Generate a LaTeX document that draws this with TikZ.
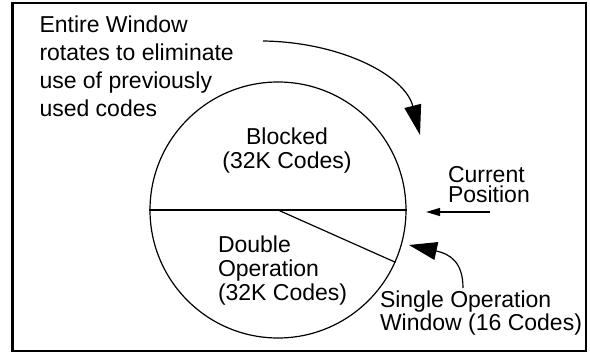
\documentclass[tikz,border=0pt]{standalone}
\usepackage{fontspec}
\setmainfont{Liberation Sans}
\usetikzlibrary{arrows.meta}
\begin{document}
\begin{tikzpicture}[x=1pt,y=-1pt,
  lbl/.style={inner sep=0pt,outer sep=0pt,align=left,anchor=base west},
  thin line/.style={line width=1.2pt},
  bigtip/.style={-{Triangle[length=30pt,width=17pt]}},
  smalltip/.style={-{Triangle[length=14pt,width=8pt]}}]
\useasboundingbox (0,0) rectangle (590,353);
% frame
\draw[line width=2.5pt] (12.5,3) rectangle (586,351);
% circle
\node[circle,draw,thin line,minimum size=256pt,inner sep=0pt] (c) at (278,210) {};
\draw[thin line] (c.west) -- (c.east);
\draw[thin line] (c.center) -- (c.-24.7);
% texts (base anchor = baseline of last line)
\node[lbl,font=\fontsize{23}{28.3}\selectfont] (t1) at (39.5,117)
  {Entire Window\\rotates to eliminate\\use of previously\\used codes};
\node[lbl,align=center,anchor=base,font=\fontsize{23}{23.5}\selectfont] (blk) at (287,168)
  {Blocked\\(32K Codes)};
\node[lbl,font=\fontsize{23}{24}\selectfont] (dbl) at (218,300)
  {Double\\Operation\\(32K Codes)};
\node[lbl,font=\fontsize{23}{20}\selectfont] (cur) at (448,202)
  {Current\\Position};
\node[lbl,font=\fontsize{23}{23}\selectfont] (sgl) at (380,330)
  {Single Operation\\Window (16 Codes)};
% arrows
\coordinate (a1s) at (263,41);
\coordinate (a1e) at (420,135);
\draw[thin line,bigtip] (a1s) .. controls (340,42) and (405,75) .. (a1e);
\coordinate (a2s) at (490,212);
\coordinate (a2e) at (426,212);
\draw[thin line,smalltip] (a2s) -- (a2e);
\coordinate (a3s) at (463,288);
\coordinate (a3e) at (409,245);
\draw[thin line,-{Triangle[length=28pt,width=18pt]}] (a3s) .. controls (463,262) and (450,254) .. (a3e);
\end{tikzpicture}
\end{document}
